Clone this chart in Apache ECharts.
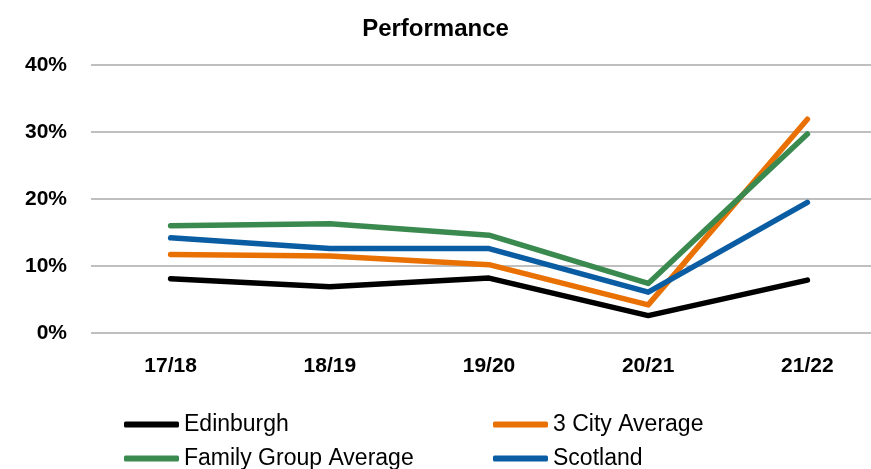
<!DOCTYPE html>
<html>
<head>
<meta charset="utf-8">
<script src="https://cdn.jsdelivr.net/npm/echarts@6/dist/echarts.min.js"></script>
<style>
  html, body { margin: 0; padding: 0; background: #fff; }
  #chart { width: 871px; height: 469px; }
</style>
</head>
<body>
<div id="chart"></div>
<script>
const years = ['17/18', '18/19', '19/20', '20/21', '21/22'];
const edinburgh = [8.1, 6.9, 8.2, 2.6, 7.9];
const cityAvg = [11.7, 11.5, 10.2, 4.2, 31.9];
const familyAvg = [16.0, 16.3, 14.6, 7.4, 29.7];
const scotland = [14.2, 12.6, 12.6, 6.1, 19.5];
const yTicks = [0, 10, 20, 30, 40];

const font = 'Liberation Sans, Arial, sans-serif';

function makeLine(name, data, color) {
    return {
        name: name,
        type: 'line',
        data: data,
        symbol: 'none',
        lineStyle: { width: 5.5, color: color, cap: 'round', join: 'round' },
        itemStyle: { color: color }
    };
}

// one legend per entry so the 2x2 layout is fixed
function makeLegend(name, left, top) {
    return {
        data: [name],
        left: left,
        top: top,
        icon: 'roundRect',
        itemWidth: 55,
        itemHeight: 6,
        textStyle: { fontFamily: font, fontSize: 23, color: '#000' }
    };
}

let myChart = echarts.init(document.getElementById('chart'));
let option = {
    animation: false,
    backgroundColor: '#fff',
    title: {
        text: 'Performance',
        left: 'center',
        top: 12,
        textStyle: { fontFamily: font, fontWeight: 'bold', fontSize: 24, color: '#000' }
    },
    legend: [
        makeLegend('Edinburgh', 119, 408),
        makeLegend('3 City Average', 488, 408),
        makeLegend('Family Group Average', 119, 442),
        makeLegend('Scotland', 488, 442)
    ],
    // plot area runs past the right edge of the canvas, as in the original
    grid: { left: 91, right: -16, top: 65, bottom: 136, outerBoundsMode: 'none' },
    xAxis: {
        type: 'category',
        data: years,
        boundaryGap: true,
        axisLine: { show: false },
        axisTick: { show: false },
        axisLabel: { fontFamily: font, fontWeight: 'bold', fontSize: 21, color: '#000', margin: 23 }
    },
    yAxis: {
        type: 'value',
        min: yTicks[0],
        max: yTicks[yTicks.length - 1],
        interval: 10,
        axisLine: { show: false },
        axisTick: { show: false },
        splitLine: { lineStyle: { color: '#bfbfbf', width: 2 } },
        axisLabel: {
            fontFamily: font, fontWeight: 'bold', fontSize: 21, color: '#000', margin: 24,
            formatter: v => v + '%'
        }
    },
    series: [
        makeLine('Edinburgh', edinburgh, '#000000'),
        makeLine('3 City Average', cityAvg, '#E97103'),
        makeLine('Family Group Average', familyAvg, '#3A8A4F'),
        makeLine('Scotland', scotland, '#0A5DA3')
    ]
};
myChart.setOption(option);
</script>
</body>
</html>
